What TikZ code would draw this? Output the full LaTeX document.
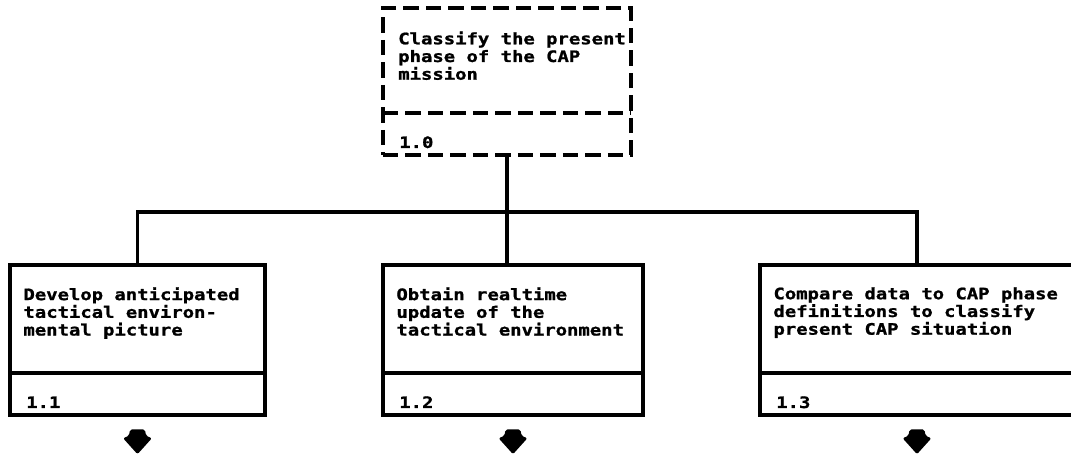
\documentclass[tikz,border=0pt]{standalone}
\usepackage{fontspec}
\newfontfamily\plotfont{DejaVu Sans Mono}[FakeStretch=1.2, BoldFeatures={FakeBold=1.2}]
\newcommand\boxfont{\plotfont\bfseries\fontsize{11.2}{12.6}\selectfont\lineskiplimit=-10pt\relax}
\usetikzlibrary{positioning}
\tikzset{
  cell/.style={draw, line width=2.4pt, inner sep=0pt, outer sep=0pt, minimum width=#1, anchor=north west},
  dashes/.style={line width=2.4pt, dash pattern=on 11pt off 5pt},
  words/.style={font=\boxfont, align=left, inner sep=0pt, anchor=north west},
  num/.style={words, anchor=base west},
  link/.style={line width=2.4pt},
  offpage/.style={fill=black, rounded corners=1.4pt}
}

\begin{document}
\begin{tikzpicture}[x=1cm,y=1cm]
 \clip (0,0) rectangle (26.775,11.425);
 % top box
 \node[cell=6.2cm, dashes, minimum height=3.675cm] (u0) at (9.575,11.225) {};
 \node[cell=6.2cm, draw=none, minimum height=1.05cm, anchor=south] (l0) at (u0.south) {};
 \draw[dashes] (l0.north west) -- (l0.north east);
 \node[words] (t0) at ([shift={(0.375,-0.58)}]u0.north west) {Classify the present\\phase of the CAP\\mission};
 \node[num] (n0) at ([shift={(0.4,0.175)}]l0.south west) {1.0};
 % sub functions
 \foreach \n/\x/\w/\txt/\lab in {1/0.25/6.375cm/{Develop anticipated\\tactical environ-\\mental picture}/1.1,
   2/9.575/6.5cm/{Obtain realtime\\update of the\\tactical environment}/1.2,
   3/19.0/7.85cm/{Compare data to CAP phase\\definitions to classify\\present CAP situation}/1.3}{%
   \node[cell=\w, minimum height=2.7cm] (u\n) at (\x,4.8) {};
   \node[cell=\w, minimum height=1.05cm, below=0pt of u\n] (l\n) {};
   \node[words] (t\n) at ([shift={(0.33,-0.55)}]u\n.north west) {\txt};
   \node[num] (n\n) at ([shift={(0.4,0.175)}]l\n.south west) {\lab};
   \fill[offpage] ([yshift=-0.36cm]l\n.south) ++(-0.19,0) -- ++(0.38,0) -- ++(0.02,-0.16)
     -- ++(0.15,-0.06) -- ++(-0.36,-0.4) -- ++(-0.36,0.4) -- ++(0.15,0.06) -- cycle;
 }
 % connectors
 \coordinate (bus) at (0,6.125);
 \draw[link] (l0.south) -- (l0.south |- u2.north);
 \draw[link] (u1.north) -- (u1.north |- bus) -- (u3.north |- bus) -- (u3.north);
\end{tikzpicture}
\end{document}
